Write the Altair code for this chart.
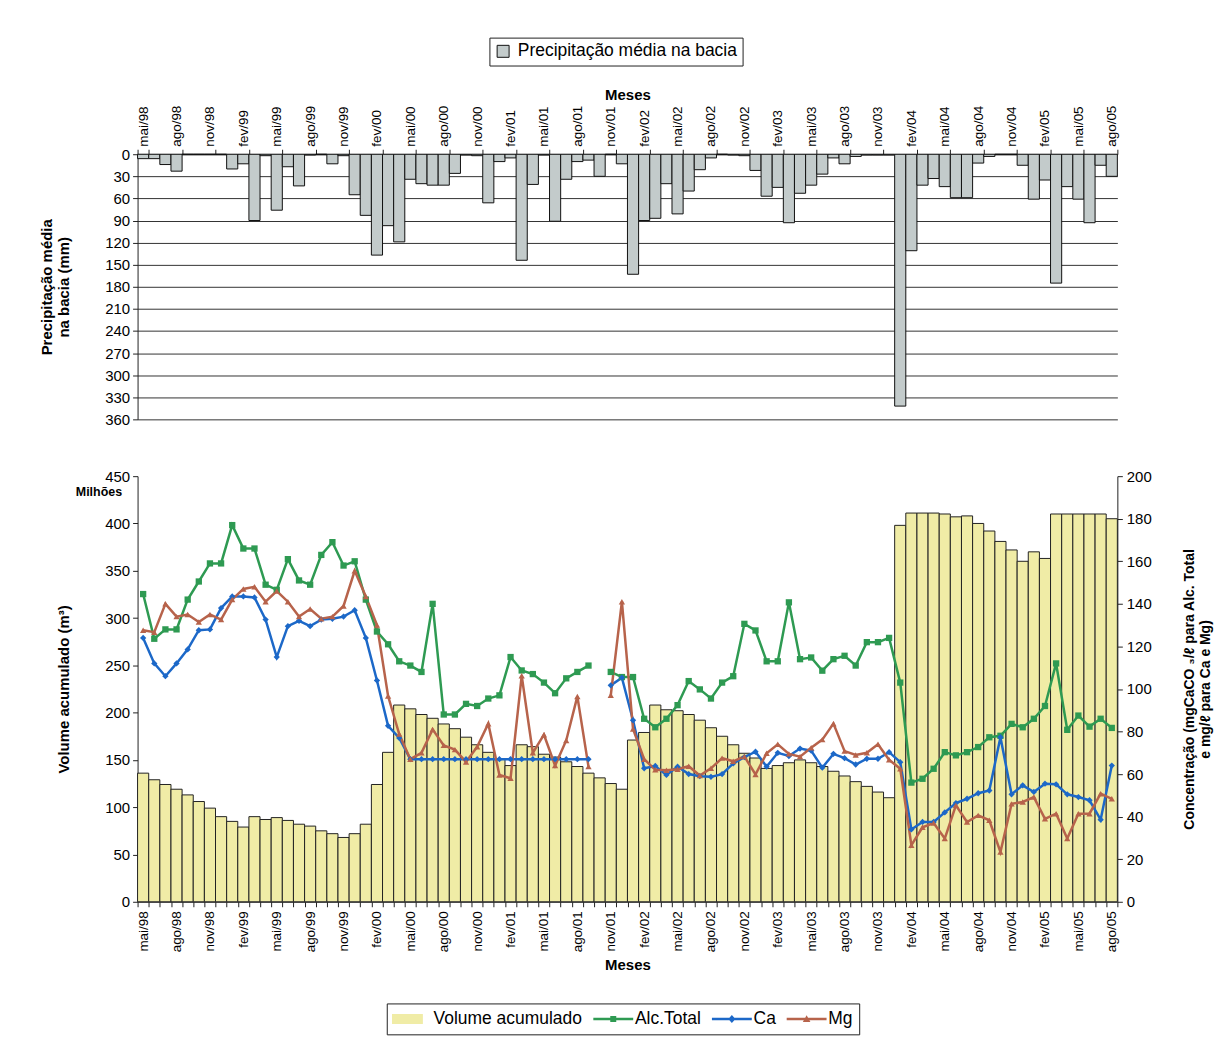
import altair as alt
import pandas as pd

# ---------------- categories (months mai/98 .. ago/05) ----------------
NOMES = ["jan", "fev", "mar", "abr", "mai", "jun", "jul", "ago", "set", "out", "nov", "dez"]
meses = []
_m, _a = 4, 1998
while len(meses) < 88:
    meses.append(f"{NOMES[_m]}/{_a % 100:02d}")
    _m += 1
    if _m == 12:
        _m, _a = 0, _a + 1
rotulos = meses[::3]   # labelled months (every third)

# ---------------- values ----------------
precipitacao = [6, 6, 14, 23, 0, 0, 0, 0, 20, 13,
                90, 2, 76, 17, 43, 1, 0, 13, 2, 55,
                83, 137, 97, 119, 34, 40, 42, 42, 26, 1,
                2, 66, 10, 5, 144, 41, 1, 91, 34, 10,
                8, 30, 0, 13, 163, 90, 87, 40, 81, 50,
                21, 5, 0, 1, 2, 22, 57, 45, 93, 53,
                42, 27, 5, 13, 3, 1, 1, 1, 342, 131,
                42, 33, 44, 59, 59, 12, 3, 0, 0, 15,
                61, 35, 175, 44, 61, 93, 15, 30]

volume = [136, 129, 124, 119, 113, 106, 99, 90, 85, 79,
          90, 87, 89, 86, 82, 80, 75, 72, 68, 72,
          82, 124, 158, 208, 204, 198, 194, 188, 183, 174,
          166, 158, 151, 144, 166, 164, 156, 153, 148, 143,
          136, 131, 125, 119, 171, 179, 208, 203, 202, 198,
          192, 184, 175, 166, 157, 152, 141, 144, 147, 150,
          147, 143, 138, 133, 127, 122, 116, 110, 398, 411,
          411, 411, 410, 407, 408, 400, 392, 381, 372, 360,
          370, 363, 410, 410, 410, 410, 410, 405]

alc_total = [144.6, 123.6, 128, 128, 142, 150.5, 159, 159, 177, 166,
             166, 149, 146.6, 161, 151, 149, 163, 169, 158, 160,
             142, 127, 121, 113, 111, 108, 140, 88, 88, 93,
             92, 95.5, 97, 115, 108.7, 107, 103, 98, 105, 108,
             111, None, 108, 105.6, 105.6, 86, 82, 86, 92.4, 103.7,
             99.8, 95.5, 103, 106, 130.6, 127.5, 113, 113, 140.7, 114,
             114.8, 108.6, 114, 115.6, 111, 122, 122, 124, 103, 56,
             57.8, 62.5, 70.3, 68.8, 70.3, 72.7, 77.3, 78, 83.6, 82,
             86, 92, 112, 80.8, 87.5, 82.3, 86, 81.7]

ca = [124, 112, 106, 112, 118.6, 127.6, 128, 138, 143.5, 143.5,
      143, 132.6, 115, 129.5, 132, 129.5, 132.6, 133, 134, 137,
      124, 104, 82.7, 77, 67, 67, 67, 67, 67, 67,
      67, 67, 67, 67, 67, 67, 67, 67, 67, 67,
      67, None, 101.7, 105.3, 85.3, 62.7, 63.8, 59.6, 63.5, 60,
      59, 58.7, 60, 65, 68, 70.5, 63.5, 70, 68.5, 72,
      71, 63, 69.5, 67.5, 64.5, 67.2, 67.2, 70.3, 65.6, 34,
      37.5, 37.5, 42, 46.4, 48.4, 51, 52.3, 77.3, 50.5, 54.7,
      51.6, 55.5, 55.2, 50.5, 49.2, 47.7, 38.6, 64]

mg = [127.6, 126.7, 140, 134, 135, 131.5, 135, 132.6, 142, 147,
      148, 141, 146, 141, 134, 137.6, 133, 134, 139, 155.5,
      143.5, 130, 96.7, 78.8, 67, 70, 81, 73.5, 71.5, 65.7,
      72.8, 83.7, 59.6, 58, 106.2, 70, 78.5, 64, 75.8, 96.5,
      63.5, None, 97, 141, 81.2, 67, 62, 61.8, 62.3, 63.7,
      59.3, 62.7, 67.5, 66, 68.3, 59.8, 69.8, 74, 69.5, 68.2,
      72.4, 76.2, 83.7, 70.8, 69, 70, 74, 66.7, 62.5, 26.6,
      35, 37, 29.7, 45.3, 37.5, 40.6, 38.3, 23.4, 46, 46.9,
      49.2, 39, 41.4, 29.7, 41.4, 41.4, 50.8, 48.4]

SERIES = ["Volume acumulado", "Alc.Total", "Ca", "Mg"]
CORES = ["#f0eca6", "#2e9a52", "#1c68c8", "#b7634b"]
# legend glyphs (rectangle / line with marker), drawn by the legend itself
GLIFOS = [
    "M-1,-0.5H2.1V0.5H-1Z",
    "M-1,-0.13H3V0.13H-1Z M0.7,-0.3H1.3V0.3H0.7Z",
    "M-1,-0.13H3V0.13H-1Z M1,-0.4L1.36,0L1,0.4L0.64,0Z",
    "M-1,-0.13H3V0.13H-1Z M1,-0.38L1.38,0.3L0.62,0.3Z",
]

# ---------------- tables ----------------
df_p = pd.DataFrame({"mes": meses, "precip": precipitacao,
                     "serie": "Precipitação média na bacia"})
df_v = pd.DataFrame({"mes": meses, "volume": volume})
linhas_rows = []
for nome, vals in [("Alc.Total", alc_total), ("Ca", ca), ("Mg", mg)]:
    for i, v in enumerate(vals):
        if v is not None:
            linhas_rows.append({"mes": meses[i], "serie": nome, "valor": v,
                                "trecho": 0 if i < 41 else 1})
df_l = pd.DataFrame(linhas_rows)

FONTE = "Liberation Sans"
LARGURA = 983
escala_x = alt.Scale(domain=meses, paddingInner=0, paddingOuter=0)

# ---------------- top: precipitation (inverted) ----------------
topo = alt.Chart(df_p).mark_bar(stroke="#111", strokeWidth=1).encode(
    x=alt.X("mes:O", sort=meses, scale=escala_x,
            axis=alt.Axis(orient="top", title="Meses", values=rotulos, labelAngle=270,
                          tickBand="extent", labelFontSize=13.5, labelPadding=3, tickSize=5,
                          titlePadding=3, labelOverlap=False)),
    y=alt.Y("precip:Q", scale=alt.Scale(domain=[0, 360], reverse=True, nice=False),
            axis=alt.Axis(values=list(range(0, 361, 30)), grid=True, gridColor="#333",
                          title=["Precipitação média", "na bacia (mm)"], titlePadding=33,
                          tickSize=5, labelPadding=3)),
    color=alt.Color("serie:N", scale=alt.Scale(range=["#c3cbcb"]),
                    legend=alt.Legend(title=None, orient="none", legendX=353, legendY=-117,
                                      direction="horizontal", symbolType="square",
                                      symbolSize=144, symbolStrokeColor="#111",
                                      symbolStrokeWidth=1, labelFontSize=17.5, labelOffset=6,
                                      padding=5, strokeColor="#222", fillColor="white",
                                      labelLimit=400)),
).properties(width=LARGURA, height=266)

# ---------------- bottom: volume bars + concentrations ----------------
lista_js = "[" + ",".join(f"'{r}'" for r in rotulos) + "]"
rotulos_expr = f"indexof({lista_js}, datum.value) >= 0 ? datum.value : ''"
eixo_x = alt.Axis(orient="bottom", title="Meses", values=meses, labelExpr=rotulos_expr,
                  labelAngle=270, tickBand="extent", labelFontSize=13.5,
                  labelPadding=4, tickSize=5, titlePadding=6, labelOverlap=False)

barras = alt.Chart(df_v).mark_bar(fill="#f0eca6", stroke="#222", strokeWidth=1).encode(
    x=alt.X("mes:O", sort=meses, scale=escala_x, axis=eixo_x),
    y=alt.Y("volume:Q", scale=alt.Scale(domain=[0, 450], nice=False),
            axis=alt.Axis(values=list(range(0, 451, 50)), title="Volume acumulado (m³)",
                          titlePadding=33, tickSize=5, labelPadding=3, grid=False)),
)

x_l = alt.X("mes:O", sort=meses, scale=escala_x)
escala_c = alt.Scale(domain=[0, 200], nice=False)
eixo_c = alt.Axis(orient="right", values=list(range(0, 201, 20)), grid=False,
                  title=["Concentração (mgCaCO ₃/ℓ para Alc. Total", "e mg/ℓ para Ca e Mg)"],
                  titleAngle=270, titleBaseline="top", titlePadding=15,
                  titleFontSize=14, tickSize=5, labelPadding=4)
cor = alt.Color("serie:N", scale=alt.Scale(domain=SERIES, range=CORES), legend=None)

linhas = alt.Chart(df_l).mark_line(strokeWidth=2.5).encode(
    x=x_l, y=alt.Y("valor:Q", scale=escala_c, axis=eixo_c), color=cor, detail="trecho:N",
)

marcadores = alt.Chart(df_l).mark_point(filled=True, size=40, opacity=1).encode(
    x=x_l, y=alt.Y("valor:Q", scale=escala_c), color=cor,
    shape=alt.Shape("serie:N", scale=alt.Scale(domain=SERIES[1:],
                                               range=["square", "diamond", "triangle-up"]),
                    legend=None),
)

props_leg = dict(title=None, orient="none", legendX=250, legendY=529, direction="horizontal",
                 columns=4, symbolSize=400, symbolOpacity=1, symbolStrokeColor="#333",
                 symbolStrokeWidth={"expr": "datum.value == 'Volume acumulado' ? 1 : 0"},
                 labelFontSize=17.5, labelOffset=23, columnPadding=10, padding=6.5,
                 strokeColor="#222", fillColor="white", labelLimit=400)

legenda = alt.Chart(df_l).mark_point(filled=True, opacity=0).encode(
    x=x_l, y=alt.Y("valor:Q", scale=escala_c),
    color=alt.Color("serie:N", scale=alt.Scale(domain=SERIES, range=CORES),
                    legend=alt.Legend(**props_leg)),
    shape=alt.Shape("serie:N", scale=alt.Scale(domain=SERIES, range=GLIFOS),
                    legend=alt.Legend(**props_leg)),
)

concentracoes = alt.layer(linhas, marcadores, legenda).resolve_scale(
    color="independent", shape="independent")

base = alt.layer(barras, concentracoes).resolve_scale(y="independent").properties(
    width=LARGURA, height=427,
    title=alt.Title("Milhões", anchor="start", frame="group", dx=-62, dy=33,
                    fontSize=12.5, fontWeight="bold", color="black"),
)

chart = alt.vconcat(topo, base, spacing=42).resolve_scale(
    color="independent", shape="independent"
).properties(
    padding={"left": 31, "top": 27, "right": 10, "bottom": 10}
).configure(
    font=FONTE
).configure_view(
    strokeWidth=0
).configure_axis(
    labelFont=FONTE, titleFont=FONTE, labelFontSize=15, titleFontSize=15,
    titleFontWeight="bold", labelColor="black", titleColor="black",
    domainColor="#222", tickColor="#222"
).configure_legend(
    labelFont=FONTE, labelColor="black"
).configure_title(
    font=FONTE
)

chart.save("out.html", embed_options={"renderer": "svg", "actions": False})
